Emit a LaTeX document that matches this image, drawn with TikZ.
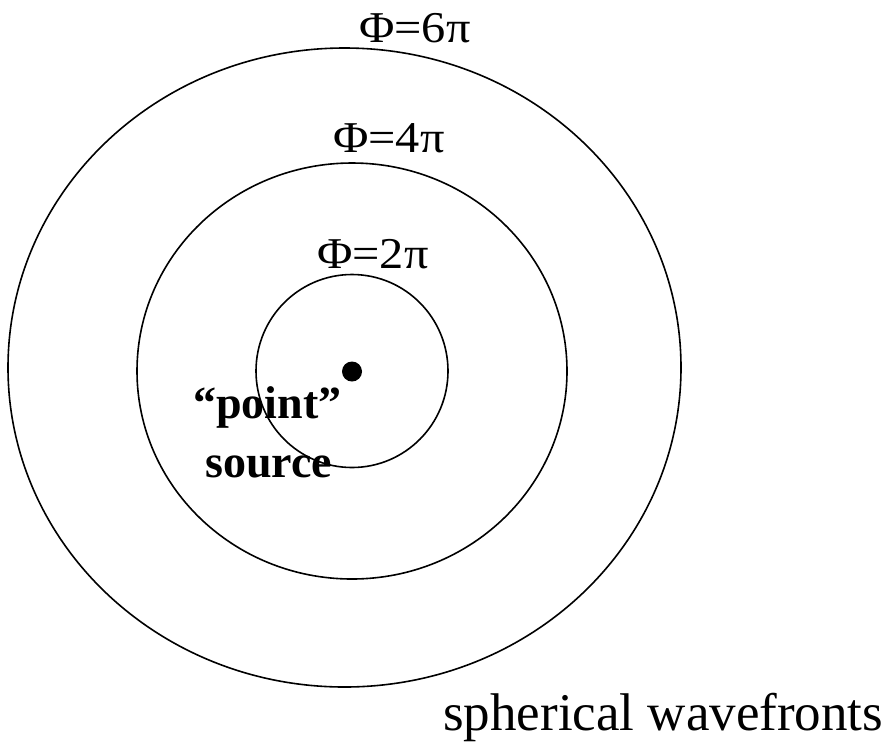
\documentclass[tikz,border=0pt]{standalone}
\usepackage{fontspec}
\setmainfont{Liberation Serif}
\begin{document}
\begin{tikzpicture}[x=1pt,y=-1pt,
  wave/.style={draw=black,line width=1.6pt},
  lbl/.style={inner sep=0pt,anchor=base west,font=\fontsize{44pt}{52pt}\selectfont},
  blbl/.style={inner sep=0pt,anchor=base west,font=\fontsize{46pt}{54pt}\selectfont\bfseries},
  big/.style={inner sep=0pt,anchor=base west,font=\fontsize{53pt}{61pt}\selectfont}]
\useasboundingbox (0,0) rectangle (888,748);
\draw[wave] (344.5,367.5) ellipse [x radius=336.5pt, y radius=319.5pt];
\draw[wave] (352,371) ellipse [x radius=215pt, y radius=208pt];
\draw[wave] (352,371) ellipse [x radius=96pt, y radius=96.5pt];
\fill[black] (352,371.5) circle [radius=10pt];
\node[lbl] (p6) at (359,42) {\scalebox{1.1}[1]{Φ=6π}};
\node[lbl] (p4) at (333,152) {\scalebox{1.1}[1]{Φ=4π}};
\node[lbl] (p2) at (317,268) {\scalebox{1.1}[1]{Φ=2π}};
\node[blbl] (pt) at (193,418) {“point”};
\node[blbl] (src) at (205,477) {source};
\node[big] (sw) at (443,730) {spherical wavefronts};
\end{tikzpicture}
\end{document}
